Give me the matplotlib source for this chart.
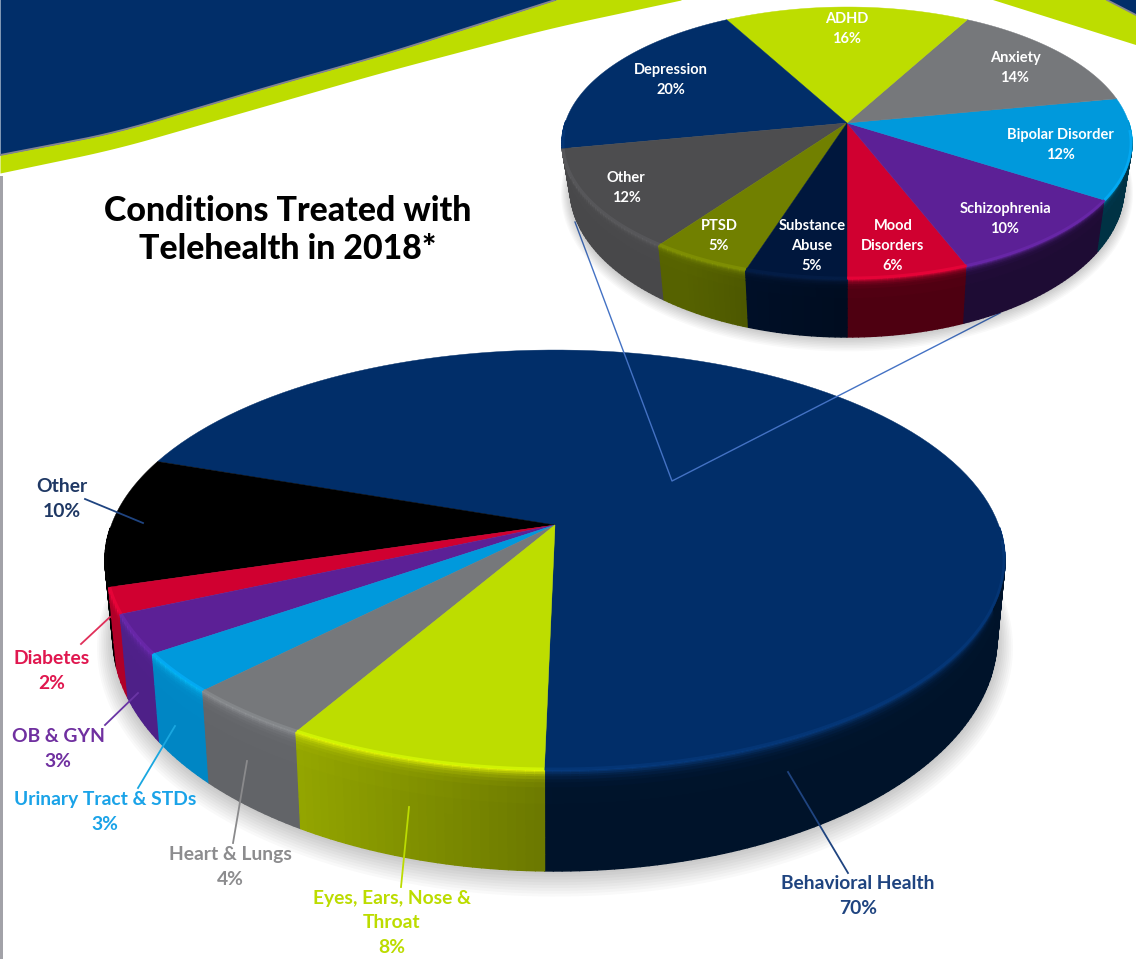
"""Conditions treated with telehealth in 2018: tilted 3D pie with a detail pie."""

import numpy as np
import matplotlib
matplotlib.use('Agg')
import matplotlib.pyplot as plt
from matplotlib.collections import PolyCollection
from matplotlib.colors import to_rgb

plt.rcParams['font.family'] = ['Lato', 'DejaVu Sans']

# main pie, counter-clockwise from the front
main_labels = ['Behavioral Health\n70%', 'Other\n10%', 'Diabetes\n2%', 'OB & GYN\n3%',
               'Urinary Tract & STDs\n3%', 'Heart & Lungs\n4%', 'Eyes, Ears, Nose &\nThroat\n8%']
main_values = [70, 10, 2, 3, 3, 4, 8]
main_colors = ['#012e69', '#000000', '#d00030', '#5c2096', '#0099dc', '#76787b', '#bddd00']
main_walls = ['#001a3a', '#000000', '#b00028', '#4e2088', '#0086c4', '#626468', '#93a500']
main_text_colors = ['#1f4480', '#1f3864', '#e0174f', '#7030a0', '#1aa3e8', '#8c8c8e', '#bcdc00']

# detail pie, counter-clockwise from the front
detail_labels = ['Mood\nDisorders\n6%', 'Schizophrenia\n10%', 'Bipolar Disorder\n12%', 'Anxiety\n14%',
                 'ADHD\n16%', 'Depression\n20%', 'Other\n12%', 'PTSD\n5%', 'Substance\nAbuse\n5%']
detail_values = [6, 10, 12, 14, 16, 20, 12, 5, 5]
detail_colors = ['#d00030', '#5c2096', '#0099dc', '#76787b', '#bddd00', '#012e69', '#4d4d4f', '#718000', '#00173d']
detail_walls = ['#6c0018', '#2a1048', '#00455f', '#404042', '#5c6a00', '#001030', '#48484a', '#566200', '#00112c']

main_text_pos = [(858, 896), (62, 499), (52, 671), (58, 749), (105, 812), (230, 867), (392, 923)]
detail_text_pos = [(893, 246), (1005, 219), (1060, 145), (1015, 68), (847, 29),
                   (671, 80), (626, 188), (719, 236), (812, 246)]

# (x0, y0, x1, y1, colour) of the leader lines of the main pie
main_leaders = [(848, 873, 788, 772, '#1f4480'), (85, 499, 143, 523, '#1f4480'),
                (81, 644, 110, 617, '#e0305a'), (105, 725, 138, 693, '#6a35a5'),
                (138, 788, 175, 726, '#1aa7e0'), (233, 843, 247, 761, '#8a8a8c'),
                (401, 887, 409, 807, '#bcdc00')]


def mix(a, b, t):
    return tuple((1 - t) * x + t * y for x, y in zip(a, b))


def project(theta, a):
    """Tilt: point of the unit circle to the ellipse, with the centre moved up by a."""
    u, v = np.cos(theta), np.sin(theta)
    d = 1 + a * v
    return u * np.sqrt(1 - a * a) / d, (v + a) / d


def draw_pie(ax, values, colors, walls, top, bottom, apex_y, start, zorder, shadow):
    cx, cy, rx, ry = top
    bx, by, brx, bry = bottom
    a = (cy - apex_y) / ry

    # soft shadow below the body
    for grow in np.linspace(shadow, 0, 10):
        t = np.linspace(0, 2 * np.pi, 200)
        ax.fill(bx + (brx + grow) * np.cos(t), by + grow * 0.6 + (bry + grow) * np.sin(t),
                color='black', alpha=0.022, lw=0, zorder=zorder)

    edges = start + np.cumsum([0] + list(values)) / sum(values) * 2 * np.pi
    quads, quad_colors = [], []
    depth = np.concatenate([[0, 0.015, 0.03, 0.05, 0.07, 0.1, 0.13], np.linspace(0.18, 1, 6)])
    for i, col in enumerate(colors):
        th = np.linspace(edges[i], edges[i + 1], max(int((edges[i + 1] - edges[i]) * 60), 3))
        u, v = project(th, a)
        base = to_rgb(col)
        rim = tuple(min(c * 1.22 + 0.03, 1) for c in base)
        wall = to_rgb(walls[i])
        for j in range(len(th) - 1):
            if v[j] > 0.15 and v[j + 1] > 0.15:
                continue
            um = (u[j] + u[j + 1]) / 2
            shade = np.clip(1 - 0.5 * (um + 0.57), 0.72, 1)
            for k in range(len(depth) - 1):
                t0, t1 = depth[k], depth[k + 1]
                p = []
                for jj, tt in ((j, t0), (j + 1, t0), (j + 1, t1), (j, t1)):
                    xt, yt = cx + rx * u[jj], cy - ry * v[jj]
                    xb, yb = bx + brx * u[jj], by - bry * v[jj]
                    p.append((xt + (xb - xt) * tt, yt + (yb - yt) * tt))
                quads.append(p)
                shaded = tuple(c * shade for c in wall)
                quad_colors.append(mix(shaded, rim, np.exp(-t0 / 0.045)))
    ax.add_collection(PolyCollection(quads, facecolors=quad_colors, edgecolors=quad_colors,
                                     linewidths=1.0, zorder=zorder + 0.1))

    # top faces
    for i, col in enumerate(colors):
        th = np.linspace(edges[i], edges[i + 1], 120)
        u, v = project(th, a)
        ax.fill(np.r_[cx, cx + rx * u], np.r_[apex_y, cy - ry * v], color=col, lw=0.3,
                zorder=zorder + 0.2)
        # light bevel on the front of the rim
        front = v < 0.1
        if front.any():
            rim = tuple(min(c * 1.12 + 0.02, 1) for c in to_rgb(col))
            ax.plot(cx + (rx - 1) * u[front], cy - (ry - 1) * v[front], color=rim, lw=2,
                    alpha=0.7, zorder=zorder + 0.3, solid_capstyle='butt')


def put_labels(ax, labels, positions, colors, size, spacing, zorder):
    for text, (x, y), col in zip(labels, positions, colors):
        ax.text(x, y, text, ha='center', va='center', color=col, fontsize=size,
                fontweight='bold', linespacing=spacing, zorder=zorder)


def smooth_curve(xs, px, py, width=81):
    # straight pieces through the points, rounded off with a running mean
    pad = np.arange(-width, width + 1)
    grid = np.r_[xs[0] + pad[pad < 0], xs, xs[-1] + pad[pad > 0]]
    slope_l = (py[1] - py[0]) / (px[1] - px[0])
    slope_r = (py[-1] - py[-2]) / (px[-1] - px[-2])
    y = np.interp(grid, px, py)
    y[grid < px[0]] = py[0] + slope_l * (grid[grid < px[0]] - px[0])
    y[grid > px[-1]] = py[-1] + slope_r * (grid[grid > px[-1]] - px[-1])
    y = np.convolve(y, np.ones(width) / width, mode='same')
    return np.interp(xs, grid, y)


fig = plt.figure(figsize=(11.36, 9.59), dpi=100)
ax = fig.add_axes([0, 0, 1, 1])
ax.set_xlim(0, 1136)
ax.set_ylim(959, 0)
ax.axis('off')

# page furniture
ax.fill_between([0, 3], 176, 959, color='#a2a2a8', lw=0)
xs = np.arange(0, 701, 1.0)
navy_edge = smooth_curve(xs, [0, 115, 268, 383, 555], [155, 133, 87, 55, 0])
lime_edge = smooth_curve(xs, [0, 115, 268, 383, 550, 681], [173, 149, 105, 72, 28, 0])
ax.fill_between(xs, -5, navy_edge, color='#012e69', lw=0, zorder=1)
ax.fill_between(xs, navy_edge, lime_edge, where=lime_edge > 0, color='#bddd00', lw=0, zorder=0.9)
ax.plot(xs[navy_edge > 0], navy_edge[navy_edge > 0], color='#85858f', lw=1.3, zorder=1.1)
ax.fill([993, 1136, 1136, 1107], [0, 45, 15, 0], color='#bddd00', lw=0, zorder=1)
ax.fill([1107, 1136, 1136], [0, 15, 0], color='#012e69', lw=0, zorder=1)
ax.plot([1107, 1136], [0, 15], color='#85858f', lw=1.3, zorder=1.1)

ax.text(288, 230, 'Conditions Treated with\nTelehealth in 2018*', ha='center', va='center',
        fontsize=24.4, fontweight='black', color='black', linespacing=1.24)

draw_pie(ax, main_values, main_colors, main_walls, (555, 560, 450, 210), (555, 638, 442, 233),
         525, -np.pi / 2 - 0.02, 2, 16)
for x0, y0, x1, y1, col in main_leaders:
    ax.plot([x0, x1], [y0, y1], color=col, lw=1.3, zorder=3)
put_labels(ax, main_labels, main_text_pos, main_text_colors, 13.9, 1.55, 3)

# lines from the slice to the detail pie
ax.plot([575, 672, 1000], [222, 481, 313], color='#4472c4', lw=1, zorder=3)

draw_pie(ax, detail_values, detail_colors, detail_walls, (847, 143, 285, 136), (847, 188, 277, 149),
         123, -np.pi / 2, 4, 9)
put_labels(ax, detail_labels, detail_text_pos, ['white'] * len(detail_labels), 10.5, 1.5, 5)

fig.savefig('out.png', dpi=100)
